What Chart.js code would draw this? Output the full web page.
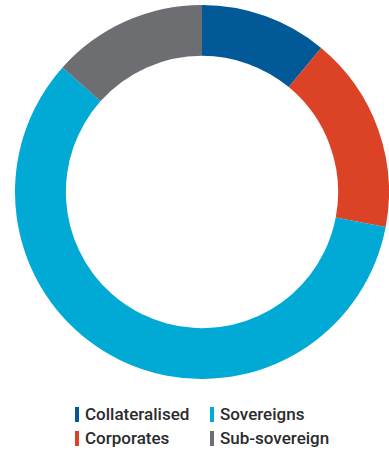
<!DOCTYPE html>
<html><head><meta charset="utf-8">
<script src="https://cdn.jsdelivr.net/npm/chart.js@4"></script>
<style>
html,body{margin:0;padding:0;background:#fff;width:389px;height:450px;overflow:hidden;}
#wrap{position:absolute;left:15px;top:5px;width:374px;height:374px;}
#legend{position:absolute;left:75px;top:405px;font-family:Roboto,"Liberation Sans",Arial,sans-serif;font-weight:500;font-size:17px;color:#2b2b2d;}
.item{position:absolute;white-space:nowrap;line-height:18px;height:18px;}
.mk{position:absolute;left:0;top:2px;width:3.5px;height:15px;}
.tx{position:absolute;left:10px;top:0;}
</style></head>
<body>
<div id="wrap"><canvas id="c"></canvas></div>
<div id="legend"></div>
<script>
const categories = ["Collateralised", "Corporates", "Sovereigns", "Sub-sovereign"];
const shares = [11.0, 17.0, 58.6, 13.4];
const colors = ["#015a97", "#db4226", "#00aad5", "#6c6e72"];
const legendOrder = [0, 2, 1, 3];

new Chart(document.getElementById('c'), {
  type: 'doughnut',
  data: { labels: categories, datasets: [{ data: shares, backgroundColor: colors, borderWidth: 0 }] },
  options: {
    responsive: true, maintainAspectRatio: false, animation: false,
    cutout: '72.8%',
    layout: { padding: 0 },
    plugins: { legend: { display: false }, tooltip: { enabled: false } }
  }
});

const lg = document.getElementById('legend');
legendOrder.forEach((idx, k) => {
  const col = k % 2, row = Math.floor(k / 2);
  const d = document.createElement('div');
  d.className = 'item';
  d.style.left = (col * 135) + 'px';
  d.style.top = (row * 24) + 'px';
  d.innerHTML = '<span class="mk" style="background:' + colors[idx] + '"></span><span class="tx">' + categories[idx] + '</span>';
  lg.appendChild(d);
});
</script>
</body></html>
